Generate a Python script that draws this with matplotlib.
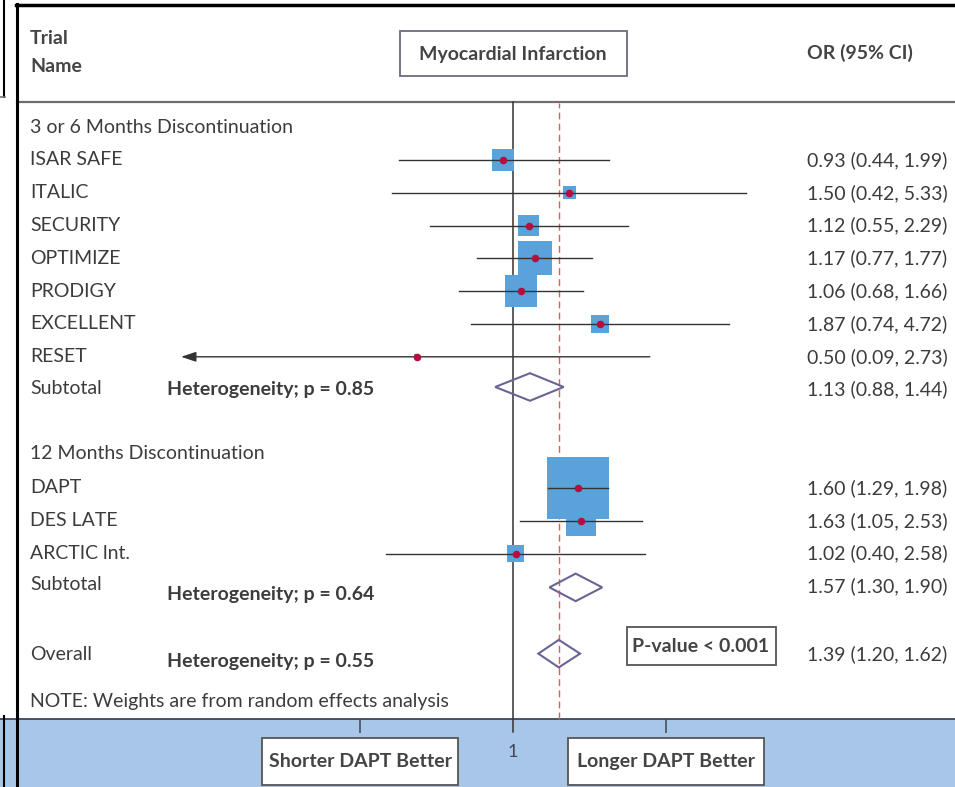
import matplotlib
matplotlib.use("Agg")
import numpy as np
import matplotlib.pyplot as plt
from matplotlib.patches import Rectangle, Polygon
from matplotlib.transforms import blended_transform_factory

# 3 or 6 months discontinuation
trials_g1 = ['ISAR SAFE', 'ITALIC', 'SECURITY', 'OPTIMIZE', 'PRODIGY', 'EXCELLENT', 'RESET']
or_g1 = [0.93, 1.50, 1.12, 1.17, 1.06, 1.87, 0.50]
lo_g1 = [0.44, 0.42, 0.55, 0.77, 0.68, 0.74, 0.09]
hi_g1 = [1.99, 5.33, 2.29, 1.77, 1.66, 4.72, 2.73]
wt_g1 = [5.7, 1.9, 5.0, 13.5, 11.9, 4.0, 0.3]

# 12 months discontinuation
trials_g2 = ['DAPT', 'DES LATE', 'ARCTIC lnt.']
or_g2 = [1.60, 1.63, 1.02]
lo_g2 = [1.29, 1.05, 0.40]
hi_g2 = [1.98, 2.53, 2.58]
wt_g2 = [44.0, 10.4, 3.2]

sub_or = [1.13, 1.57]
sub_lo = [0.88, 1.30]
sub_hi = [1.44, 1.90]
sub_het = [0.85, 0.64]

overall_or, overall_lo, overall_hi = 1.39, 1.20, 1.62
overall_het = 0.55
overall_p = '< 0.001'

W, H = 955, 787
TXT = '#3c3c3c'
FS = 14
plt.rcParams['font.family'] = ['Lato', 'DejaVu Sans']

fig = plt.figure(figsize=(W / 100, H / 100), dpi=100)
ax = fig.add_axes([0, 0, 1, 1])
ax.set_xscale('log')
ax.set_xlim(0.02495, 24.05)
ax.set_ylim(20.116, -3.878)
ax.axis('off')


def fx(px):
    return px / W


def fy(py):
    return 1 - py / H


lab = blended_transform_factory(fig.transFigure, ax.transData)

# frame and bottom band
ax.add_patch(Rectangle((0, 0), 1, fy(719), transform=ax.transAxes,
                       fc='#a8c7e8', ec='none', zorder=0))
ax.plot([0, 1], [fy(719)] * 2, transform=ax.transAxes, color='#3f4654', lw=1.3, zorder=1)
ax.plot([fx(17)] * 2, [0, fy(4)], transform=ax.transAxes, color='black', lw=2.2, zorder=5)
ax.plot([fx(16), 1], [fy(5)] * 2, transform=ax.transAxes, color='black', lw=2.5, zorder=5)
ax.plot([fx(17), 1], [fy(102)] * 2, transform=ax.transAxes, color='#6e6e6e', lw=1.6, zorder=1)
ax.plot([fx(3.5)] * 2, [fy(0), fy(97)], transform=ax.transAxes, color='black', lw=1.5)
ax.plot([0, fx(5)], [fy(97)] * 2, transform=ax.transAxes, color='#777777', lw=1.2)
ax.plot([fx(3.5)] * 2, [0, fy(716)], transform=ax.transAxes, color='black', lw=1.5)

# reference lines
ax.axvline(1, ymin=fy(732), ymax=fy(102), color='#333333', lw=1.1, zorder=2)
ax.axvline(overall_or, ymin=fy(719), ymax=fy(103), color='#d9605a', lw=1.0,
           dashes=(5, 3), zorder=2)
ax.vlines([1 / 3, 3], 18.04, 18.47, color='#3f4654', lw=1.1, zorder=2)
ax.text(1, 19.05, '1', ha='center', va='center', fontsize=13, color='#3f4654')

# header
ax.text(fx(30), fy(38), 'Trial', transform=fig.transFigure, fontsize=FS,
        fontweight='bold', color='#444444', va='center')
ax.text(fx(30), fy(66), 'Name', transform=fig.transFigure, fontsize=FS,
        fontweight='bold', color='#444444', va='center')
ax.add_patch(Rectangle((fx(400), fy(76)), fx(227), 45 / H, transform=fig.transFigure,
                       fc='white', ec='#6b6b80', lw=1.3, zorder=3))
ax.text(1, -2.23, 'Myocardial Infarction', ha='center', va='center', fontsize=FS,
        fontweight='bold', color='#444444', zorder=4)
ax.text(fx(807), fy(53), 'OR (95% CI)', transform=fig.transFigure, fontsize=FS,
        fontweight='bold', color='#444444', va='center')


def study_rows(names, ors, los, his, wts, start):
    rows = np.arange(start, start + len(names))
    sides = 60 * np.sqrt(np.array(wts) / max(wt_g2))
    for r, n, o, lo, hi in zip(rows, names, ors, los, his):
        ax.text(fx(30), r, n, transform=lab, fontsize=FS, color=TXT, va='center')
        ax.text(fx(807), r, f'{o:.2f} ({lo:.2f}, {hi:.2f})', transform=lab,
                fontsize=FS, color=TXT, va='center')
        if lo < 0.1:
            ax.annotate('', xy=(lo, r), xytext=(hi, r),
                        arrowprops=dict(arrowstyle='-|>,head_length=0.9,head_width=0.3',
                                        color='#333333', lw=1.0), zorder=4)
        else:
            ax.plot([lo, hi], [r, r], color='#333333', lw=1.0, zorder=4)
    ax.scatter(ors, rows, s=(sides * 0.74) ** 2, marker='s', color='#5aa2da',
               linewidths=0, zorder=3)
    ax.scatter(ors, rows, s=30, color='#b3103f', linewidths=0, zorder=5)


def diamond(o, lo, hi, r):
    h = 0.42
    ax.add_patch(Polygon([(lo, r), (o, r - h), (hi, r), (o, r + h)], closed=True,
                         fill=False, ec='#6a6493', lw=1.5, zorder=4))


# group 1
ax.text(fx(30), 0, '3 or 6 Months Discontinuation', transform=lab, fontsize=FS,
        color=TXT, va='center')
study_rows(trials_g1, or_g1, lo_g1, hi_g1, wt_g1, 1)
ax.text(fx(30), 7.97, 'Subtotal', transform=lab, fontsize=FS, color=TXT, va='center')
ax.text(fx(167), 8.0, f'Heterogeneity; p = {sub_het[0]:.2f}', transform=lab,
        fontsize=FS, fontweight='bold', color=TXT, va='center')
ax.text(fx(807), 8.0, f'{sub_or[0]:.2f} ({sub_lo[0]:.2f}, {sub_hi[0]:.2f})',
        transform=lab, fontsize=FS, color=TXT, va='center')
diamond(sub_or[0], sub_lo[0], sub_hi[0], 7.92)

# group 2
ax.text(fx(30), 9.95, '12 Months Discontinuation', transform=lab, fontsize=FS,
        color=TXT, va='center')
study_rows(trials_g2, or_g2, lo_g2, hi_g2, wt_g2, 11)
ax.text(fx(30), 13.95, 'Subtotal', transform=lab, fontsize=FS, color=TXT, va='center')
ax.text(fx(167), 14.25, f'Heterogeneity; p = {sub_het[1]:.2f}', transform=lab,
        fontsize=FS, fontweight='bold', color=TXT, va='center')
ax.text(fx(807), 14.0, f'{sub_or[1]:.2f} ({sub_lo[1]:.2f}, {sub_hi[1]:.2f})',
        transform=lab, fontsize=FS, color=TXT, va='center')
diamond(sub_or[1], sub_lo[1], sub_hi[1], 14.03)

# overall
ax.text(fx(30), 16.08, 'Overall', transform=lab, fontsize=FS, color=TXT, va='center')
ax.text(fx(167), 16.28, f'Heterogeneity; p = {overall_het:.2f}', transform=lab,
        fontsize=FS, fontweight='bold', color=TXT, va='center')
ax.text(fx(807), 16.08, f'{overall_or:.2f} ({overall_lo:.2f}, {overall_hi:.2f})',
        transform=lab, fontsize=FS, color=TXT, va='center')
diamond(overall_or, overall_lo, overall_hi, 16.05)
ax.add_patch(Rectangle((fx(627), fy(665)), fx(149), 38 / H, transform=fig.transFigure,
                       fc='white', ec='#555555', lw=1.3, zorder=3))
ax.text(fx(701), fy(646), f'P-value {overall_p}', transform=fig.transFigure,
        ha='center', va='center', fontsize=FS, fontweight='bold', color='#444444', zorder=4)

ax.text(fx(30), 17.5, 'NOTE: Weights are from random effects analysis', transform=lab,
        fontsize=FS, color=TXT, va='center')

# direction boxes
for xv, label in [(1 / 3, 'Shorter DAPT Better'), (3, 'Longer DAPT Better')]:
    px = 513 + 139 * np.log(xv)
    ax.add_patch(Rectangle((fx(px - 98), fy(785)), fx(196), 47 / H, transform=fig.transFigure,
                           fc='white', ec='#555555', lw=1.3, zorder=3))
    ax.text(xv, 19.33, label, ha='center', va='center', fontsize=FS,
            fontweight='bold', color='#444444', zorder=4)

fig.savefig('out.png', dpi=100)
